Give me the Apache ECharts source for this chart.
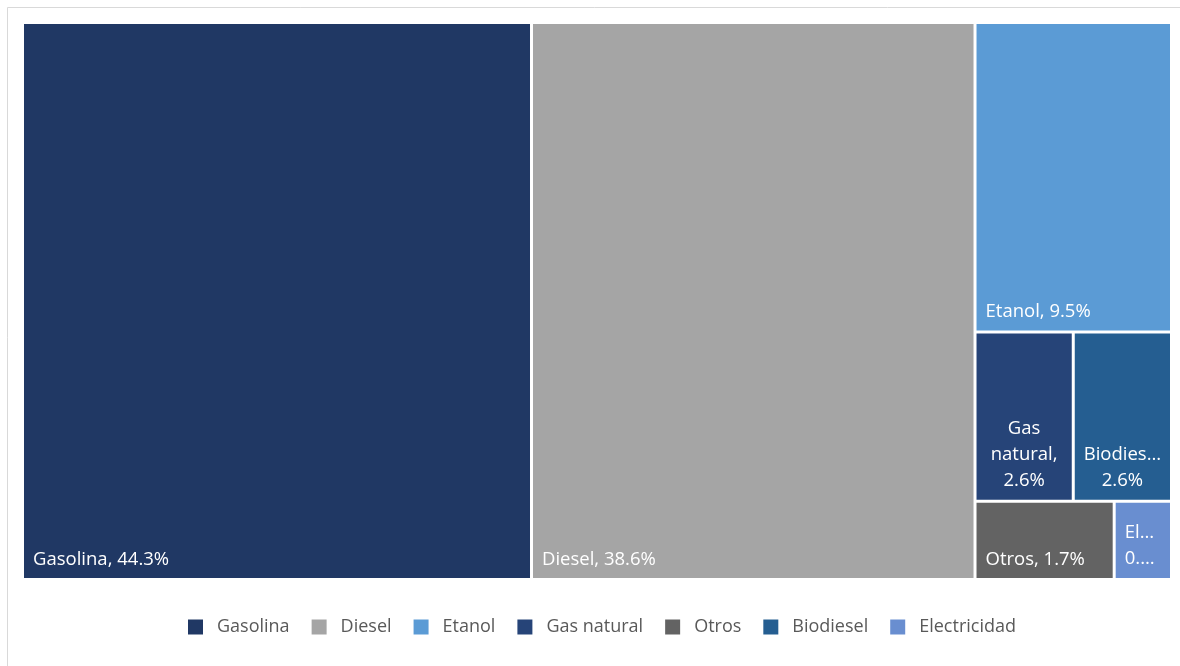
<!DOCTYPE html>
<html>
<head>
<meta charset="utf-8">
<script src="https://cdn.jsdelivr.net/npm/echarts@6/dist/echarts.min.js"></script>
<style>
html,body{margin:0;padding:0;background:#fff;}
#chart{width:1180px;height:666px;}
</style>
</head>
<body>
<div id="chart"></div>
<script>
const categories = ['Gasolina', 'Diesel', 'Etanol', 'Gas natural', 'Otros', 'Biodiesel', 'Electricidad'];
const shares = [44.3, 38.6, 9.5, 2.6, 1.7, 2.6, 0.7];
const colors = ['#203864', '#A5A5A5', '#5B9BD5', '#264478', '#636363', '#255E91', '#698ED0'];
// order of the cells in the treemap (largest first, ties as in the reference)
const cellOrder = ['Gasolina', 'Diesel', 'Etanol', 'Gas natural', 'Biodiesel', 'Otros', 'Electricidad'];
// Displayed label text where the cell is too small for the full label (as in the reference)
const shortLabels = {
  'Gas natural': 'Gas\nnatural,\n2.6%',
  'Biodiesel': 'Biodies…\n2.6%',
  'Electricidad': 'El…\n0.…'
};
const centeredLabels = ['Gas natural', 'Biodiesel'];

const FONT = "'Open Sans', 'DejaVu Sans', sans-serif";

const treeData = cellOrder.map(c => {
  const i = categories.indexOf(c);
  const item = {
    name: c,
    value: shares[i],
    itemStyle: { color: colors[i] }
  };
  if (shortLabels[c]) {
    item.label = {
      formatter: shortLabels[c],
      lineHeight: 26,
      distance: 4,
      offset: [0, 3]
    };
    if (centeredLabels.indexOf(c) >= 0) {
      item.label.position = 'insideBottom';
      item.label.align = 'center';
    }
  }
  return item;
});

const chart = echarts.init(document.getElementById('chart'), null, { renderer: 'canvas' });
chart.setOption({
  animation: false,
  backgroundColor: '#fff',
  graphic: [{
    type: 'rect',
    silent: true,
    shape: { x: 7.5, y: 7.5, width: 1300, height: 800 },
    style: { fill: 'none', stroke: '#d9d9d9', lineWidth: 1 }
  }],
  legend: {
    top: 613,
    left: 183,
    icon: 'rect',
    itemWidth: 15,
    itemHeight: 15,
    itemGap: 22,
    selectedMode: false,
    textStyle: { color: '#595959', fontSize: 18, fontFamily: FONT, padding: [0, 0, 0, 9] },
    data: categories
  },
  series: [
    {
      type: 'treemap',
      left: 24,
      top: 24,
      right: 10,
      bottom: 88,
      roam: false,
      nodeClick: false,
      silent: true,
      sort: false,
      breadcrumb: { show: false },
      levels: [
        { itemStyle: { gapWidth: 3, borderWidth: 0 } }
      ],
      label: {
        show: true,
        position: 'insideBottomLeft',
        distance: 4,
        color: '#fff',
        fontSize: 18.5,
        fontFamily: FONT,
        formatter: p => p.name + ', ' + p.value + '%'
      },
      upperLabel: { show: false },
      itemStyle: { borderWidth: 0 },
      data: treeData
    },
    {
      // invisible carrier for the legend entries
      type: 'pie',
      radius: [0, 0],
      center: [-100, -100],
      silent: true,
      label: { show: false },
      labelLine: { show: false },
      data: categories.map((c, i) => ({ name: c, value: shares[i], itemStyle: { color: colors[i] } }))
    }
  ]
});
</script>
</body>
</html>
